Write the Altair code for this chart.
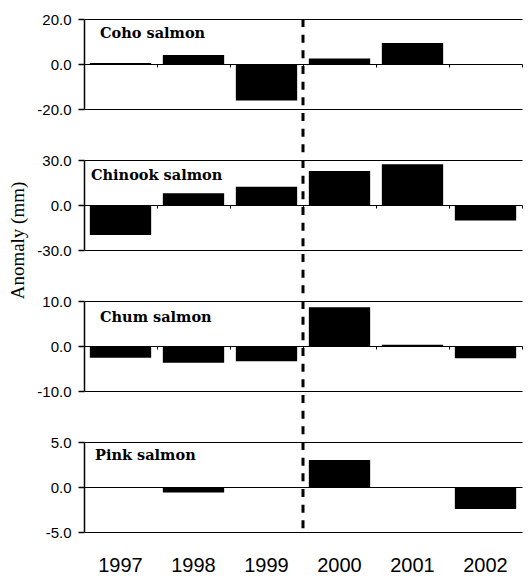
import altair as alt
import pandas as pd

years = ["1997", "1998", "1999", "2000", "2001", "2002"]
species = ["Coho salmon", "Chinook salmon", "Chum salmon", "Pink salmon"]
coho = [0.4, 4.0, -16.2, 2.5, 9.3, 0.0]
chinook = [-20.0, 7.8, 12.2, 22.7, 27.1, -10.4]
chum = [-2.6, -3.7, -3.4, 8.6, 0.3, -2.7]
pink = [0.0, -0.6, 0.0, 3.0, 0.0, -2.45]
limits = [20, 30, 10, 5]
regime_shift = "2000"
y_title = "Anomaly (mm)"

series = [coho, chinook, chum, pink]

W = 438
H = 90
SP = 51
title_style = {"Coho salmon": (16, 8), "Chinook salmon": (7, 9),
               "Chum salmon": (16, 10), "Pink salmon": (11, 7)}

label_expr = ("datum.value < 0 ? '-' + format(-datum.value, '.1f') "
              ": format(datum.value, '.1f')")


def panel(i):
    name = species[i]
    values = series[i]
    lim = limits[i]
    last = i == len(species) - 1
    df = pd.DataFrame({"year": years, "anomaly": values})
    one = pd.DataFrame({"k": [0]})

    xscale = alt.Scale(paddingInner=0, paddingOuter=0)
    if last:
        xaxis = alt.Axis(orient="bottom", offset=0, labels=True, domain=False,
                         ticks=False, labelPadding=23, labelFontSize=20,
                         labelFont="Liberation Sans", labelColor="black",
                         labelAngle=0, title=None, grid=False)
    else:
        xaxis = alt.Axis(orient="bottom", offset=-H / 2, labels=False, domain=False,
                         ticks=True, tickBand="extent", tickSize=3, tickColor="black",
                         tickWidth=1, title=None, grid=False)
    x = alt.X("year:N", sort=years, scale=xscale, axis=xaxis)

    yaxis_kw = dict(values=[-lim, 0, lim], labelExpr=label_expr, grid=True,
                    gridColor="black", gridWidth=1, gridOpacity=1, domainColor="black",
                    domainWidth=1.5, tickColor="black", tickSize=6, tickWidth=1.5,
                    labelPadding=7, labelFont="Liberation Sans", labelFontSize=15,
                    labelColor="black", title=None)
    if i == 1:
        yaxis_kw.update(title=y_title, titleFont="Liberation Serif", titleFontSize=19,
                        titleFontWeight="normal", titleColor="black", titleX=-67,
                        titleY=80, titleAngle=270, titleBaseline="middle",
                        titleAlign="center")
    y = alt.Y("anomaly:Q", scale=alt.Scale(domain=[-lim, lim], nice=False),
              axis=alt.Axis(**yaxis_kw))

    bars = alt.Chart(df).mark_bar(color="black", width=alt.RelativeBandSize(0.84)).encode(
        x=x, y=y)

    rule = alt.Chart(one).mark_rule(strokeDash=[8, 7.67], strokeWidth=3, color="black").encode(
        x=alt.XDatum(regime_shift, bandPosition=0),
        y=alt.value(0), y2=alt.value(H if last else H + SP))

    dx, dy = title_style[name]
    label = alt.Chart(one).mark_text(
        align="left", baseline="top", font="DejaVu Serif", fontWeight="bold",
        fontSize=14.5, color="black", dx=dx, dy=dy).encode(
        x=alt.XDatum(years[0], bandPosition=0), y=alt.YDatum(lim), text=alt.value(name))

    return alt.layer(bars, rule, label).properties(width=W, height=H)


chart = alt.vconcat(*[panel(i) for i in range(len(species))], spacing=SP,
                    bounds="flush").properties(
    padding={"left": 0, "right": 0, "top": 4, "bottom": 0}
).configure_view(stroke=None)

chart.save("out.html", embed_options={"renderer": "svg", "actions": False})
